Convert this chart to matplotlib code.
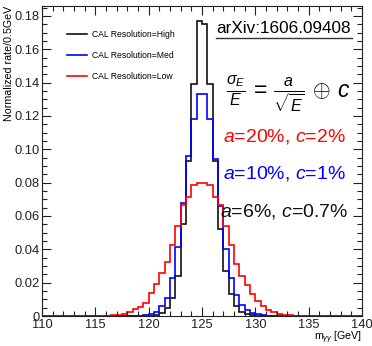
import matplotlib
matplotlib.use('Agg')
import matplotlib.pyplot as plt
import numpy as np
from matplotlib.ticker import MultipleLocator, FuncFormatter

plt.rcParams['font.family'] = ['Liberation Sans', 'DejaVu Sans']
plt.rcParams['mathtext.fontset'] = 'custom'
plt.rcParams['mathtext.rm'] = 'Liberation Sans'
plt.rcParams['mathtext.it'] = 'Liberation Sans:italic'

# m_gg binning: 0.5 GeV bins from 110 to 140
bin_edges = np.arange(110, 140.01, 0.5)

# normalized rate per bin (bins start at 110.0)
rate_high = [0] * 20 + [0.0003, 0.0008, 0.0016, 0.005, 0.0106, 0.024, 0.055, 0.093, 0.139, 0.177,
                        0.175, 0.139, 0.093, 0.052, 0.027, 0.013, 0.006, 0.0026, 0.0015, 0.0007,
                        0.0003] + [0] * 19
rate_med = [0] * 18 + [0.0002, 0.0005, 0.0012, 0.0026, 0.006, 0.011, 0.0226, 0.0415, 0.0675, 0.096,
                       0.118, 0.133, 0.133, 0.118, 0.094, 0.066, 0.040, 0.0226, 0.0126, 0.0066,
                       0.0036, 0.002, 0.001, 0.0005, 0.0002] + [0] * 17
rate_low = [0] * 10 + [0.0001, 0.0002, 0.0003, 0.0005, 0.0008, 0.0012, 0.0026, 0.004, 0.0056, 0.008,
                       0.0136, 0.019, 0.0256, 0.0325, 0.0425, 0.054, 0.0665, 0.0714, 0.0784, 0.0798,
                       0.0798, 0.0785, 0.0715, 0.0665, 0.054, 0.0425, 0.031, 0.024, 0.0186, 0.013,
                       0.009, 0.006, 0.0036, 0.0022, 0.0013, 0.0008, 0.0005, 0.0003, 0.0002, 0.0001] + [0] * 10

labels = ['CAL Resolution=High', 'CAL Resolution=Med', 'CAL Resolution=Low']
colors = ['#111111', '#0000ff', '#ff0000']

fig = plt.figure(figsize=(3.72, 3.46), dpi=100)
ax = fig.add_axes([0.1129, 0.0867, 0.8602, 0.8960])

for vals, lab, col in zip([rate_high, rate_med, rate_low], labels, colors):
    ax.stairs(vals, bin_edges, color=col, lw=1.2, label=lab)

ax.set_xlim(110, 140)
ax.set_ylim(0, 0.186)

ax.xaxis.set_major_locator(MultipleLocator(5))
ax.xaxis.set_minor_locator(MultipleLocator(1))
ax.yaxis.set_major_locator(MultipleLocator(0.02))
ax.yaxis.set_minor_locator(MultipleLocator(0.005))
ax.yaxis.set_major_formatter(FuncFormatter(lambda v, p: '0' if abs(v) < 1e-9 else f'{v:.2f}'))
ax.tick_params(which='both', direction='in', top=True, right=True, width=0.8, colors='#222222')
ax.tick_params(which='major', length=6.5, labelsize=9.3)
ax.tick_params(axis='y', which='major', pad=1.5)
ax.tick_params(axis='x', which='major', pad=2.0)
ax.tick_params(which='minor', length=3.3)
for s in ax.spines.values():
    s.set_linewidth(0.8)
    s.set_color('#222222')

ax.set_ylabel('Normalized rate/0.5GeV', fontsize=7.7, loc='top')
ax.yaxis.set_label_coords(-0.088, 1.0)
ax.text(1.0, -0.078, r'm$_{\gamma\gamma}$ [GeV]', transform=ax.transAxes, ha='right', va='baseline',
        fontsize=7.7)

ax.legend(loc='upper left', bbox_to_anchor=(0.078, 0.922), frameon=False, fontsize=6.2,
          handlelength=2.3, handletextpad=0.6, labelspacing=1.4, borderpad=0, borderaxespad=0)

# annotations
ax.text(0.544, 0.913, 'arXiv:1606.09408', transform=ax.transAxes, fontsize=12.3, va='baseline')
ax.plot([0.544, 0.969], [0.897, 0.897], transform=ax.transAxes, color='#333333', lw=1.0, clip_on=False)
ax.text(0.77, 0.715, r'$\frac{\sigma_E}{E}\, =\, \frac{a}{\sqrt{E}}\, \oplus\, c$', transform=ax.transAxes,
        fontsize=16.5, ha='center', va='center')
ax.text(0.566, 0.580, r'$a$=20%, $c$=2%', transform=ax.transAxes, fontsize=14, color='#ff0000', va='center')
ax.text(0.566, 0.459, r'$a$=10%, $c$=1%', transform=ax.transAxes, fontsize=14, color='#0000ff', va='center')
ax.text(0.556, 0.336, r'$a$=6%, $c$=0.7%', transform=ax.transAxes, fontsize=14, color='#111111', va='center')

fig.savefig('out.png', dpi=100)
